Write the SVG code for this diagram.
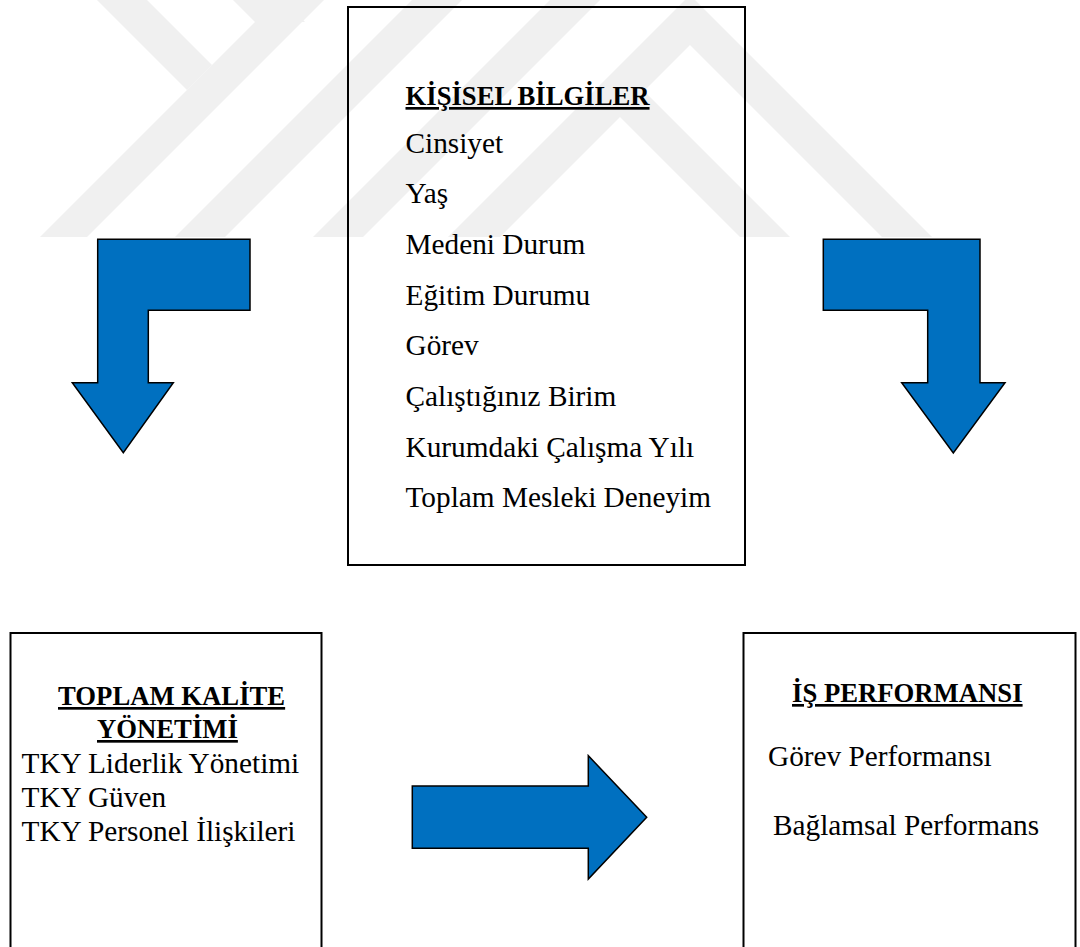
<svg xmlns="http://www.w3.org/2000/svg" width="1080" height="947" viewBox="0 0 1080 947">
<defs>
<style>
.wm{fill:#f0f0f0;stroke:none}
.box{fill:none;stroke:#000;stroke-width:2}
.arrow{fill:#0070C0;stroke:#000;stroke-width:1.5;stroke-linejoin:miter}
.t{font-family:"Liberation Serif","Times New Roman",serif;font-size:29.3px;fill:#000}
.h{font-family:"Liberation Serif","Times New Roman",serif;font-size:26.7px;font-weight:bold;fill:#000;text-decoration:underline}
</style>
<clipPath id="wmclip"><rect x="0" y="0" width="1080" height="237"/></clipPath>
</defs>
<rect x="0" y="0" width="1080" height="947" fill="#fff"/>
<g id="watermark" clip-path="url(#wmclip)">
<polygon class="wm" points="40,237 87,237 324,0 277,0"/>
<polygon class="wm" points="97,0 147,0 212,65 187,90"/>
<polygon class="wm" points="233,0 283,0 305,22 255,22"/>
<polygon class="wm" points="175,237 225,237 462,0 412,0"/>
<polygon class="wm" points="313,237 363,237 600,0 550,0"/>
<polygon class="wm" points="620,67 790,237 740,237 620,117 500,237 450,237"/>
<polygon class="wm" points="690,-5 932,237 882,237 690,45 498,237 448,237"/>
</g>
<g id="connectors">
<polygon id="arrow-left" class="arrow" points="97.7,239.3 250,239.3 250,310.3 148.3,310.3 148.3,382.7 173.3,382.7 123.3,452.7 72.3,382.7 97.7,382.7"/>
<polygon id="arrow-right" class="arrow" points="823.3,239.3 980,239.3 980,382.7 1005,382.7 953.3,453 901.7,382.7 927.7,382.7 927.7,310.3 823.3,310.3"/>
<polygon id="arrow-mid" class="arrow" points="412.3,786 588.3,786 588.3,755.7 646.7,817.3 588.3,879 588.3,848.3 412.3,848.3"/>
</g>
<g id="kisisel">
<rect class="box" x="348" y="7" width="397" height="558"/>
<text class="h" x="405.5" y="105">KİŞİSEL BİLGİLER</text>
<text class="t" x="405.5" y="152.5">Cinsiyet</text>
<text class="t" x="405.5" y="203.2">Yaş</text>
<text class="t" x="405.5" y="253.9">Medeni Durum</text>
<text class="t" x="405.5" y="304.6">Eğitim Durumu</text>
<text class="t" x="405.5" y="355.3">Görev</text>
<text class="t" x="405.5" y="406">Çalıştığınız Birim</text>
<text class="t" x="405.5" y="456.7">Kurumdaki Çalışma Yılı</text>
<text class="t" x="405.5" y="507.4">Toplam Mesleki Deneyim</text>
</g>
<g id="tky">
<rect class="box" x="10.5" y="633" width="311" height="330"/>
<text class="h" x="58" y="705">TOPLAM KALİTE</text>
<text class="h" x="97" y="738">YÖNETİMİ</text>
<text class="t" x="21.5" y="773">TKY Liderlik Yönetimi</text>
<text class="t" x="21.5" y="807">TKY Güven</text>
<text class="t" x="21.5" y="841">TKY Personel İlişkileri</text>
</g>
<g id="performans">
<rect class="box" x="743.5" y="633" width="332" height="330"/>
<text class="h" x="792" y="702">İŞ PERFORMANSI</text>
<text class="t" x="768" y="766">Görev Performansı</text>
<text class="t" x="773" y="835">Bağlamsal Performans</text>
</g>
</svg>
